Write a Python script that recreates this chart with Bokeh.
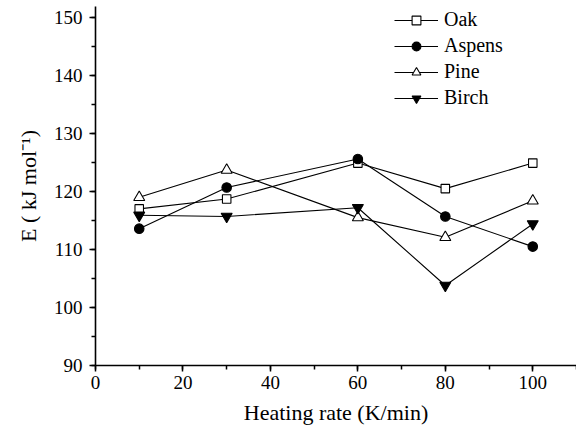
from bokeh.plotting import figure
from bokeh.models import FixedTicker, Range1d, Legend
from bokeh.embed import file_html
from bokeh.resources import INLINE

rates = [10, 30, 60, 80, 100]
oak = [117.0, 118.7, 124.9, 120.5, 124.9]
aspens = [113.6, 120.7, 125.6, 115.7, 110.5]
pine = [119.0, 123.7, 115.5, 112.1, 118.4]
birch = [115.9, 115.7, 117.2, 103.8, 114.4]
x_ticks = [0, 20, 40, 60, 80, 100]
y_ticks = [90, 100, 110, 120, 130, 140, 150]

FONT = "Liberation Serif"

p = figure(width=576, height=430, output_backend="svg", toolbar_location=None,
           x_range=Range1d(0, 110), y_range=Range1d(90, 151.9),
           min_border_left=95, min_border_top=6, min_border_right=0, min_border_bottom=65,
           frame_width=481, frame_height=359)
p.outline_line_color = None
p.xgrid.visible = False
p.ygrid.visible = False

series = [
    ("Oak", oak, "square", "white", 8.5),
    ("Aspens", aspens, "circle", "black", 9.5),
    ("Pine", pine, "triangle", "white", 11),
    ("Birch", birch, "inverted_triangle", "black", 11),
]
items = []
for name, vals, marker, fill, size in series:
    r1 = p.line(rates, vals, line_color="black", line_width=1.1)
    r2 = p.scatter(rates, vals, marker=marker, size=size, fill_color=fill,
                   line_color="black", line_width=1.1)
    items.append((name, [r1, r2]))

legend = Legend(items=items, location=(299, 256), border_line_color=None,
                background_fill_alpha=0, padding=0, margin=0, spacing=3,
                label_height=22, glyph_height=22, glyph_width=44, label_standoff=6,
                label_text_font=FONT, label_text_font_size="20px", label_text_color="black")
p.add_layout(legend)

p.xaxis.ticker = FixedTicker(ticks=x_ticks, minor_ticks=list(range(0, 111, 10)))
p.yaxis.ticker = FixedTicker(ticks=y_ticks, minor_ticks=list(range(90, 152, 5)))

for ax in (p.xaxis[0], p.yaxis[0]):
    ax.axis_line_width = 1.6
    ax.axis_line_color = "black"
    ax.major_tick_line_width = 1.5
    ax.minor_tick_line_width = 1.5
    ax.major_tick_out = 6
    ax.major_tick_in = 0
    ax.minor_tick_out = 4
    ax.minor_tick_in = 0
    ax.major_label_text_font = FONT
    ax.major_label_text_font_size = "19px"
    ax.major_label_text_color = "black"
    ax.axis_label_text_font = FONT
    ax.axis_label_text_font_size = "22px"
    ax.axis_label_text_font_style = "normal"
    ax.axis_label_text_color = "black"

p.xaxis.axis_label = "Heating rate (K/min)"
p.yaxis.axis_label = "E ( kJ mol\u207b\u00b9)"
p.xaxis.major_label_standoff = 4
p.xaxis.axis_label_standoff = 8
p.yaxis.major_label_standoff = 7
p.yaxis.axis_label_standoff = 10

open("out.html", "w").write(file_html(p, INLINE))
